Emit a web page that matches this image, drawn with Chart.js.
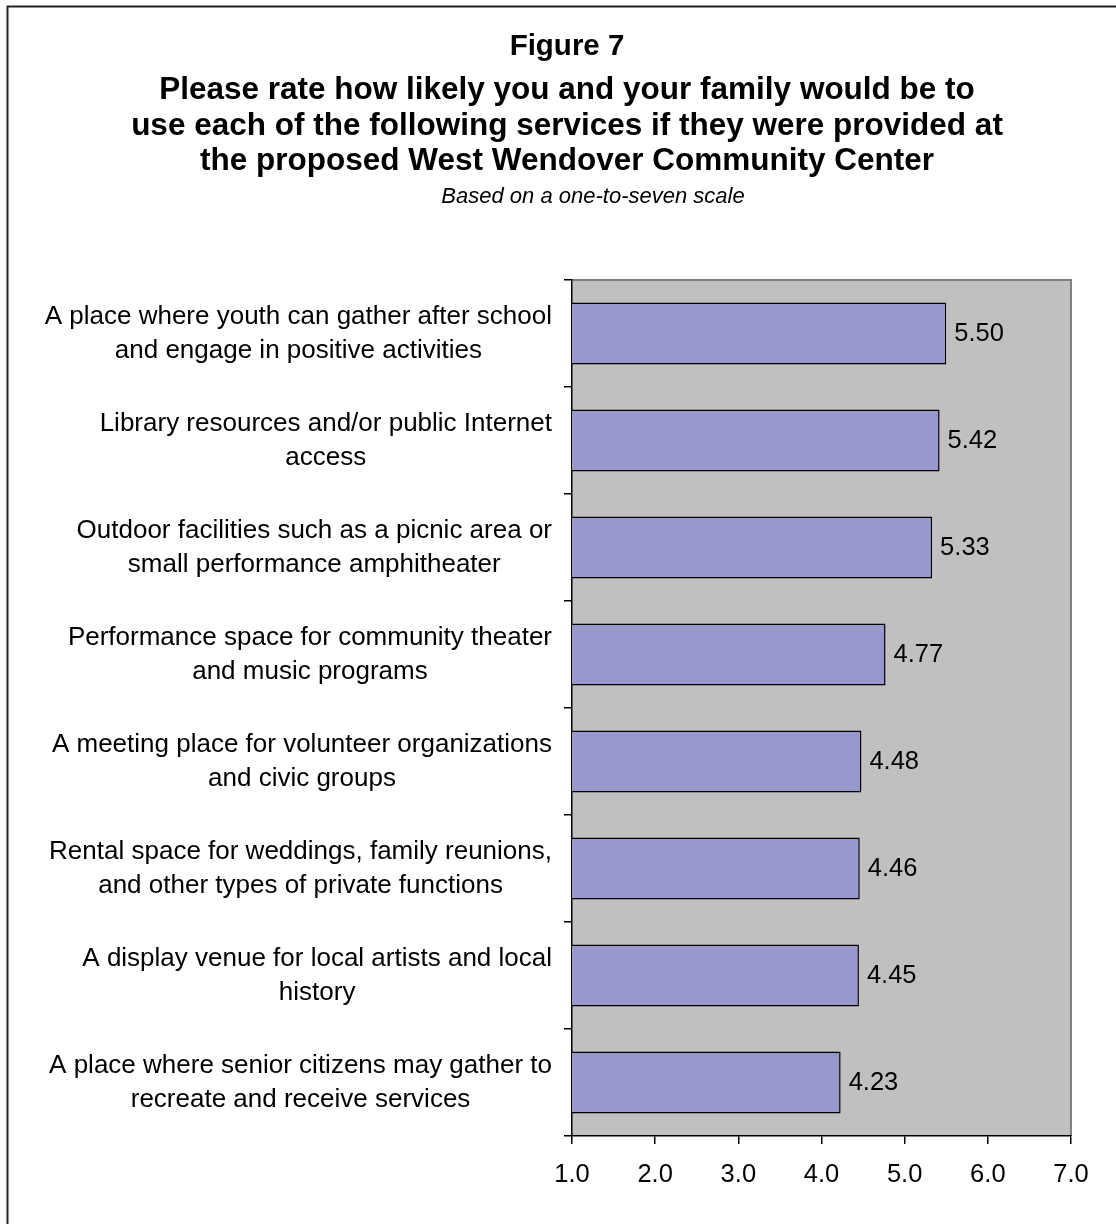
<!DOCTYPE html>
<html>
<head>
<meta charset="utf-8">
<script src="https://cdn.jsdelivr.net/npm/chart.js@4/dist/chart.umd.min.js"></script>
<style>
  html, body { margin: 0; padding: 0; background: #fff; }
  #wrap { width: 1116px; height: 1224px; position: relative; }
</style>
</head>
<body>
<div id="wrap"><canvas id="chart" width="1116" height="1224"></canvas></div>
<script>
const titleLines = [
    'Figure 7',
    'Please rate how likely you and your family would be to',
    'use each of the following services if they were provided at',
    'the proposed West Wendover Community Center'
]
const subtitle = 'Based on a one-to-seven scale'

const services = [
    ['A place where youth can gather after school', 'and engage in positive activities'],
    ['Library resources and/or public Internet', 'access'],
    ['Outdoor facilities such as a picnic area or', 'small performance amphitheater'],
    ['Performance space for community theater', 'and music programs'],
    ['A meeting place for volunteer organizations', 'and civic groups'],
    ['Rental space for weddings, family reunions,', 'and other types of private functions'],
    ['A display venue for local artists and local', 'history'],
    ['A place where senior citizens may gather to', 'recreate and receive services']
]
const ratings = [5.50, 5.42, 5.33, 4.77, 4.48, 4.46, 4.45, 4.23]
const scaleTicks = [1, 2, 3, 4, 5, 6, 7]

const FONT = 'Arial, "Liberation Sans", sans-serif'

// frame, headings, plot background and the value / category labels
const decorations = {
    id: 'decorations',
    beforeDraw(chart) {
        const { ctx, chartArea: a } = chart
        ctx.save()
        ctx.fillStyle = '#c0c0c0'
        ctx.fillRect(a.left, a.top, a.right - a.left, a.bottom - a.top)
        ctx.strokeStyle = '#808080'
        ctx.lineWidth = 2
        ctx.beginPath()
        ctx.moveTo(a.left, a.top)
        ctx.lineTo(a.right, a.top)
        ctx.lineTo(a.right, a.bottom)
        ctx.stroke()

        ctx.strokeStyle = '#222'
        ctx.lineWidth = 2
        ctx.beginPath()
        ctx.moveTo(7.5, 1224)
        ctx.lineTo(7.5, 6.5)
        ctx.lineTo(1116, 6.5)
        ctx.stroke()

        ctx.fillStyle = '#000'
        ctx.textAlign = 'center'
        ctx.textBaseline = 'middle'
        const ys = [47, 90, 126, 161]
        titleLines.forEach((t, i) => {
            ctx.font = `bold ${i === 0 ? 29.5 : 31.5}px ${FONT}`
            ctx.fillText(t, 567, ys[i])
        })
        ctx.font = `italic 22px ${FONT}`
        ctx.fillText(subtitle, 593, 197)
        ctx.restore()
    },
    afterDatasetsDraw(chart) {
        const { ctx } = chart
        const y = chart.scales.y
        const meta = chart.getDatasetMeta(0)
        ctx.save()
        ctx.fillStyle = '#000'
        ctx.textBaseline = 'middle'

        meta.data.forEach((bar, i) => {
            ctx.font = `25.5px ${FONT}`
            ctx.textAlign = 'left'
            ctx.fillText(ratings[i].toFixed(2), bar.x + 8, bar.y)

            ctx.font = `26px ${FONT}`
            const lines = services[i]
            const widest = Math.max(...lines.map(l => ctx.measureText(l).width))
            const cx = 552 - widest / 2
            const cy = y.getPixelForValue(i)
            ctx.textAlign = 'center'
            ctx.fillText(lines[0], cx, cy - 17)
            ctx.fillText(lines[1], cx, cy + 17)
        })
        ctx.restore()
    }
}

new Chart('chart', {
    type: 'bar',
    data: {
        labels: services.map(s => s.join(' ')),
        datasets: [{
            data: ratings,
            backgroundColor: '#9898cc',
            borderColor: '#000',
            borderWidth: 1.5,
            borderSkipped: false,
            categoryPercentage: 1,
            barPercentage: 0.58
        }]
    },
    options: {
        indexAxis: 'y',
        responsive: false,
        animation: false,
        layout: { padding: { top: 280, right: 45, left: 0, bottom: 0 } },
        plugins: { legend: { display: false }, tooltip: { enabled: false } },
        scales: {
            x: {
                min: 1,
                max: 7,
                afterFit: s => { s.height = 88 },
                afterBuildTicks: s => { s.ticks = scaleTicks.map(v => ({ value: v })) },
                border: { color: '#000', width: 1.5 },
                grid: { drawOnChartArea: false, color: '#000', tickLength: 8, lineWidth: 1.5 },
                ticks: {
                    padding: 16,
                    color: '#000',
                    font: { family: FONT, size: 25.5 },
                    callback: v => v.toFixed(1)
                }
            },
            y: {
                afterFit: s => { s.width = 572 },
                border: { color: '#000', width: 1.5 },
                grid: { offset: true, drawOnChartArea: false, color: '#000', tickLength: 8, lineWidth: 1.5 },
                ticks: { display: false }
            }
        }
    },
    plugins: [decorations]
})
</script>
</body>
</html>
